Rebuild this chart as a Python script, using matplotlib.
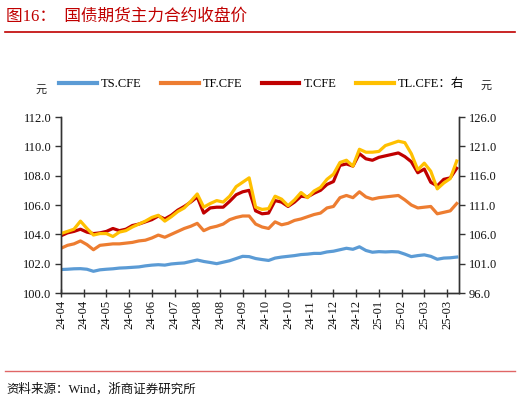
import numpy as np
import matplotlib
matplotlib.use("Agg")
import matplotlib.pyplot as plt
from matplotlib.lines import Line2D

# ---------------- data ----------------
day_index = list(range(0, 245, 4))  # trading-day index, sampled every 4 days

ts_cfe = [101.60, 101.62, 101.65, 101.66, 101.62, 101.48, 101.58, 101.62, 101.65, 101.70,
          101.72, 101.75, 101.78, 101.85, 101.90, 101.93, 101.90, 101.98, 102.02, 102.05,
          102.15, 102.25, 102.15, 102.08, 102.00, 102.10, 102.20, 102.35, 102.50, 102.48,
          102.35, 102.28, 102.22, 102.38, 102.45, 102.50, 102.55, 102.62, 102.65, 102.70,
          102.70, 102.80, 102.85, 102.95, 103.05, 102.98, 103.15, 102.90, 102.78, 102.82,
          102.80, 102.82, 102.80, 102.65, 102.48, 102.55, 102.60, 102.50, 102.30, 102.38,
          102.40, 102.45]

tf_cfe = [103.05, 103.25, 103.35, 103.55, 103.30, 102.95, 103.25, 103.30, 103.35, 103.35,
          103.40, 103.45, 103.55, 103.60, 103.75, 103.95, 103.80, 104.00, 104.20, 104.40,
          104.55, 104.75, 104.25, 104.45, 104.55, 104.70, 105.00, 105.15, 105.25, 105.25,
          104.70, 104.50, 104.40, 104.85, 104.65, 104.75, 104.95, 105.05, 105.20, 105.35,
          105.45, 105.80, 105.90, 106.50, 106.65, 106.50, 106.90, 106.55, 106.40, 106.50,
          106.55, 106.60, 106.65, 106.35, 106.00, 105.80, 105.85, 105.90, 105.40, 105.50,
          105.60, 106.10]

t_cfe = [103.90, 104.10, 104.20, 104.35, 104.15, 104.05, 104.10, 104.20, 104.40, 104.25,
         104.35, 104.60, 104.70, 104.85, 105.00, 105.25, 105.05, 105.30, 105.65, 105.90,
         106.20, 106.55, 105.45, 105.80, 105.85, 105.85, 106.25, 106.70, 106.90, 107.00,
         105.60, 105.40, 105.45, 106.30, 106.20, 105.90, 106.20, 106.60, 106.55, 106.80,
         107.00, 107.40, 107.60, 108.70, 108.80, 108.65, 109.50, 109.15, 109.05, 109.25,
         109.35, 109.45, 109.55, 109.30, 108.95, 108.20, 108.45, 107.55, 107.30, 107.75,
         107.85, 108.50]

tl_cfe = [106.13, 106.50, 106.88, 108.25, 107.00, 105.88, 106.13, 106.13, 105.63, 106.38,
          106.63, 107.25, 107.75, 108.25, 108.88, 109.25, 108.25, 109.00, 109.88, 110.50,
          111.63, 112.88, 110.63, 111.25, 111.75, 111.50, 112.50, 114.13, 114.88, 115.63,
          110.63, 110.25, 110.38, 112.50, 112.00, 110.88, 111.88, 113.13, 112.25, 113.38,
          114.00, 115.38, 116.25, 118.25, 118.63, 117.63, 120.50, 120.00, 120.00, 120.13,
          121.13, 121.50, 121.88, 121.63, 119.75, 117.00, 118.13, 116.75, 113.75, 114.75,
          115.50, 118.50]

tick_days = list(range(0, 239, 14))
tick_labels = ['24-04', '24-04', '24-05', '24-06', '24-06', '24-07', '24-08', '24-08',
               '24-09', '24-10', '24-10', '24-11', '24-12', '24-12', '25-01', '25-02',
               '25-03', '25-03']

left_ticks = [100.0, 102.0, 104.0, 106.0, 108.0, 110.0, 112.0]
right_ticks = [96.0, 101.0, 106.0, 111.0, 116.0, 121.0, 126.0]

series_names = ['TS.CFE', 'TF.CFE', 'T.CFE', 'TL.CFE：右']
colors = ['#5B9BD5', '#ED7D31', '#C00000', '#FFC000']

# ---------------- figure ----------------
FAM = ['Liberation Serif', 'Noto Sans CJK SC']
plt.rcParams['font.family'] = FAM

fig = plt.figure(figsize=(5.20, 4.03), dpi=100)
W, H = 520, 403

ax = fig.add_axes([61 / W, 1 - 293 / H, (459 - 61) / W, (293 - 117) / H])
ax2 = ax.twinx()

lw = 2.3
ax.plot(day_index, ts_cfe, color=colors[0], lw=lw)
ax.plot(day_index, tf_cfe, color=colors[1], lw=lw)
ax.plot(day_index, t_cfe, color=colors[2], lw=lw)
ax2.plot(day_index, tl_cfe, color=colors[3], lw=lw)

ax.set_xlim(0, 245.4)
ax.set_ylim(100, 112)
ax2.set_ylim(96, 126)
ax.set_yticks(left_ticks)
ax.set_yticklabels([f'{v:.1f}' for v in left_ticks])
ax2.set_yticks(right_ticks)
ax2.set_yticklabels([f'{v:.1f}' for v in right_ticks])
ax.set_xticks(tick_days)
ax.set_xticklabels(tick_labels, rotation=90)

for a in (ax, ax2):
    a.spines['top'].set_visible(False)
    for s in a.spines.values():
        s.set_color('#333333')
        s.set_linewidth(1.0)
ax.tick_params(axis='y', direction='out', length=4, width=1, labelsize=9, colors='#333333',
               labelcolor='#111111', pad=3)
ax2.tick_params(axis='y', direction='out', length=4, width=1, labelsize=9, colors='#333333',
                labelcolor='#111111', pad=3)
ax.tick_params(axis='x', direction='inout', length=6, width=1, labelsize=9, colors='#333333',
               labelcolor='#111111', pad=2)

# legend
handles = [Line2D([0], [0], color=c, lw=3) for c in colors]
fig.legend(handles, series_names, loc='center left', bbox_to_anchor=(54 / W, 1 - 84 / H),
           ncol=4, frameon=False, fontsize=9, handlelength=3.0, handletextpad=0.35,
           columnspacing=1.55, borderaxespad=0, prop={'family': FAM, 'size': 9})

fig.text(41 / W, 1 - 90 / H, '元', fontsize=8, ha='center', va='center', color='#222222')
fig.text(486 / W, 1 - 86 / H, '元', fontsize=8, ha='center', va='center', color='#222222')

# title
fig.text(6 / W, 1 - 17 / H, '图16：  国债期货主力合约收盘价', fontsize=12, color='#C00000',
         ha='left', va='center')
fig.add_artist(Line2D([5 / W, 515 / W], [1 - 31.5 / H, 1 - 31.5 / H], color='#C00000', lw=1.2))

# footer
fig.add_artist(Line2D([5 / W, 515 / W], [1 - 371 / H, 1 - 371 / H], color='#E06666', lw=1.0))
fig.text(6 / W, 1 - 389 / H, '资料来源：Wind，浙商证券研究所', fontsize=9, color='#111111',
         ha='left', va='center')

fig.savefig('out.png', dpi=100)
